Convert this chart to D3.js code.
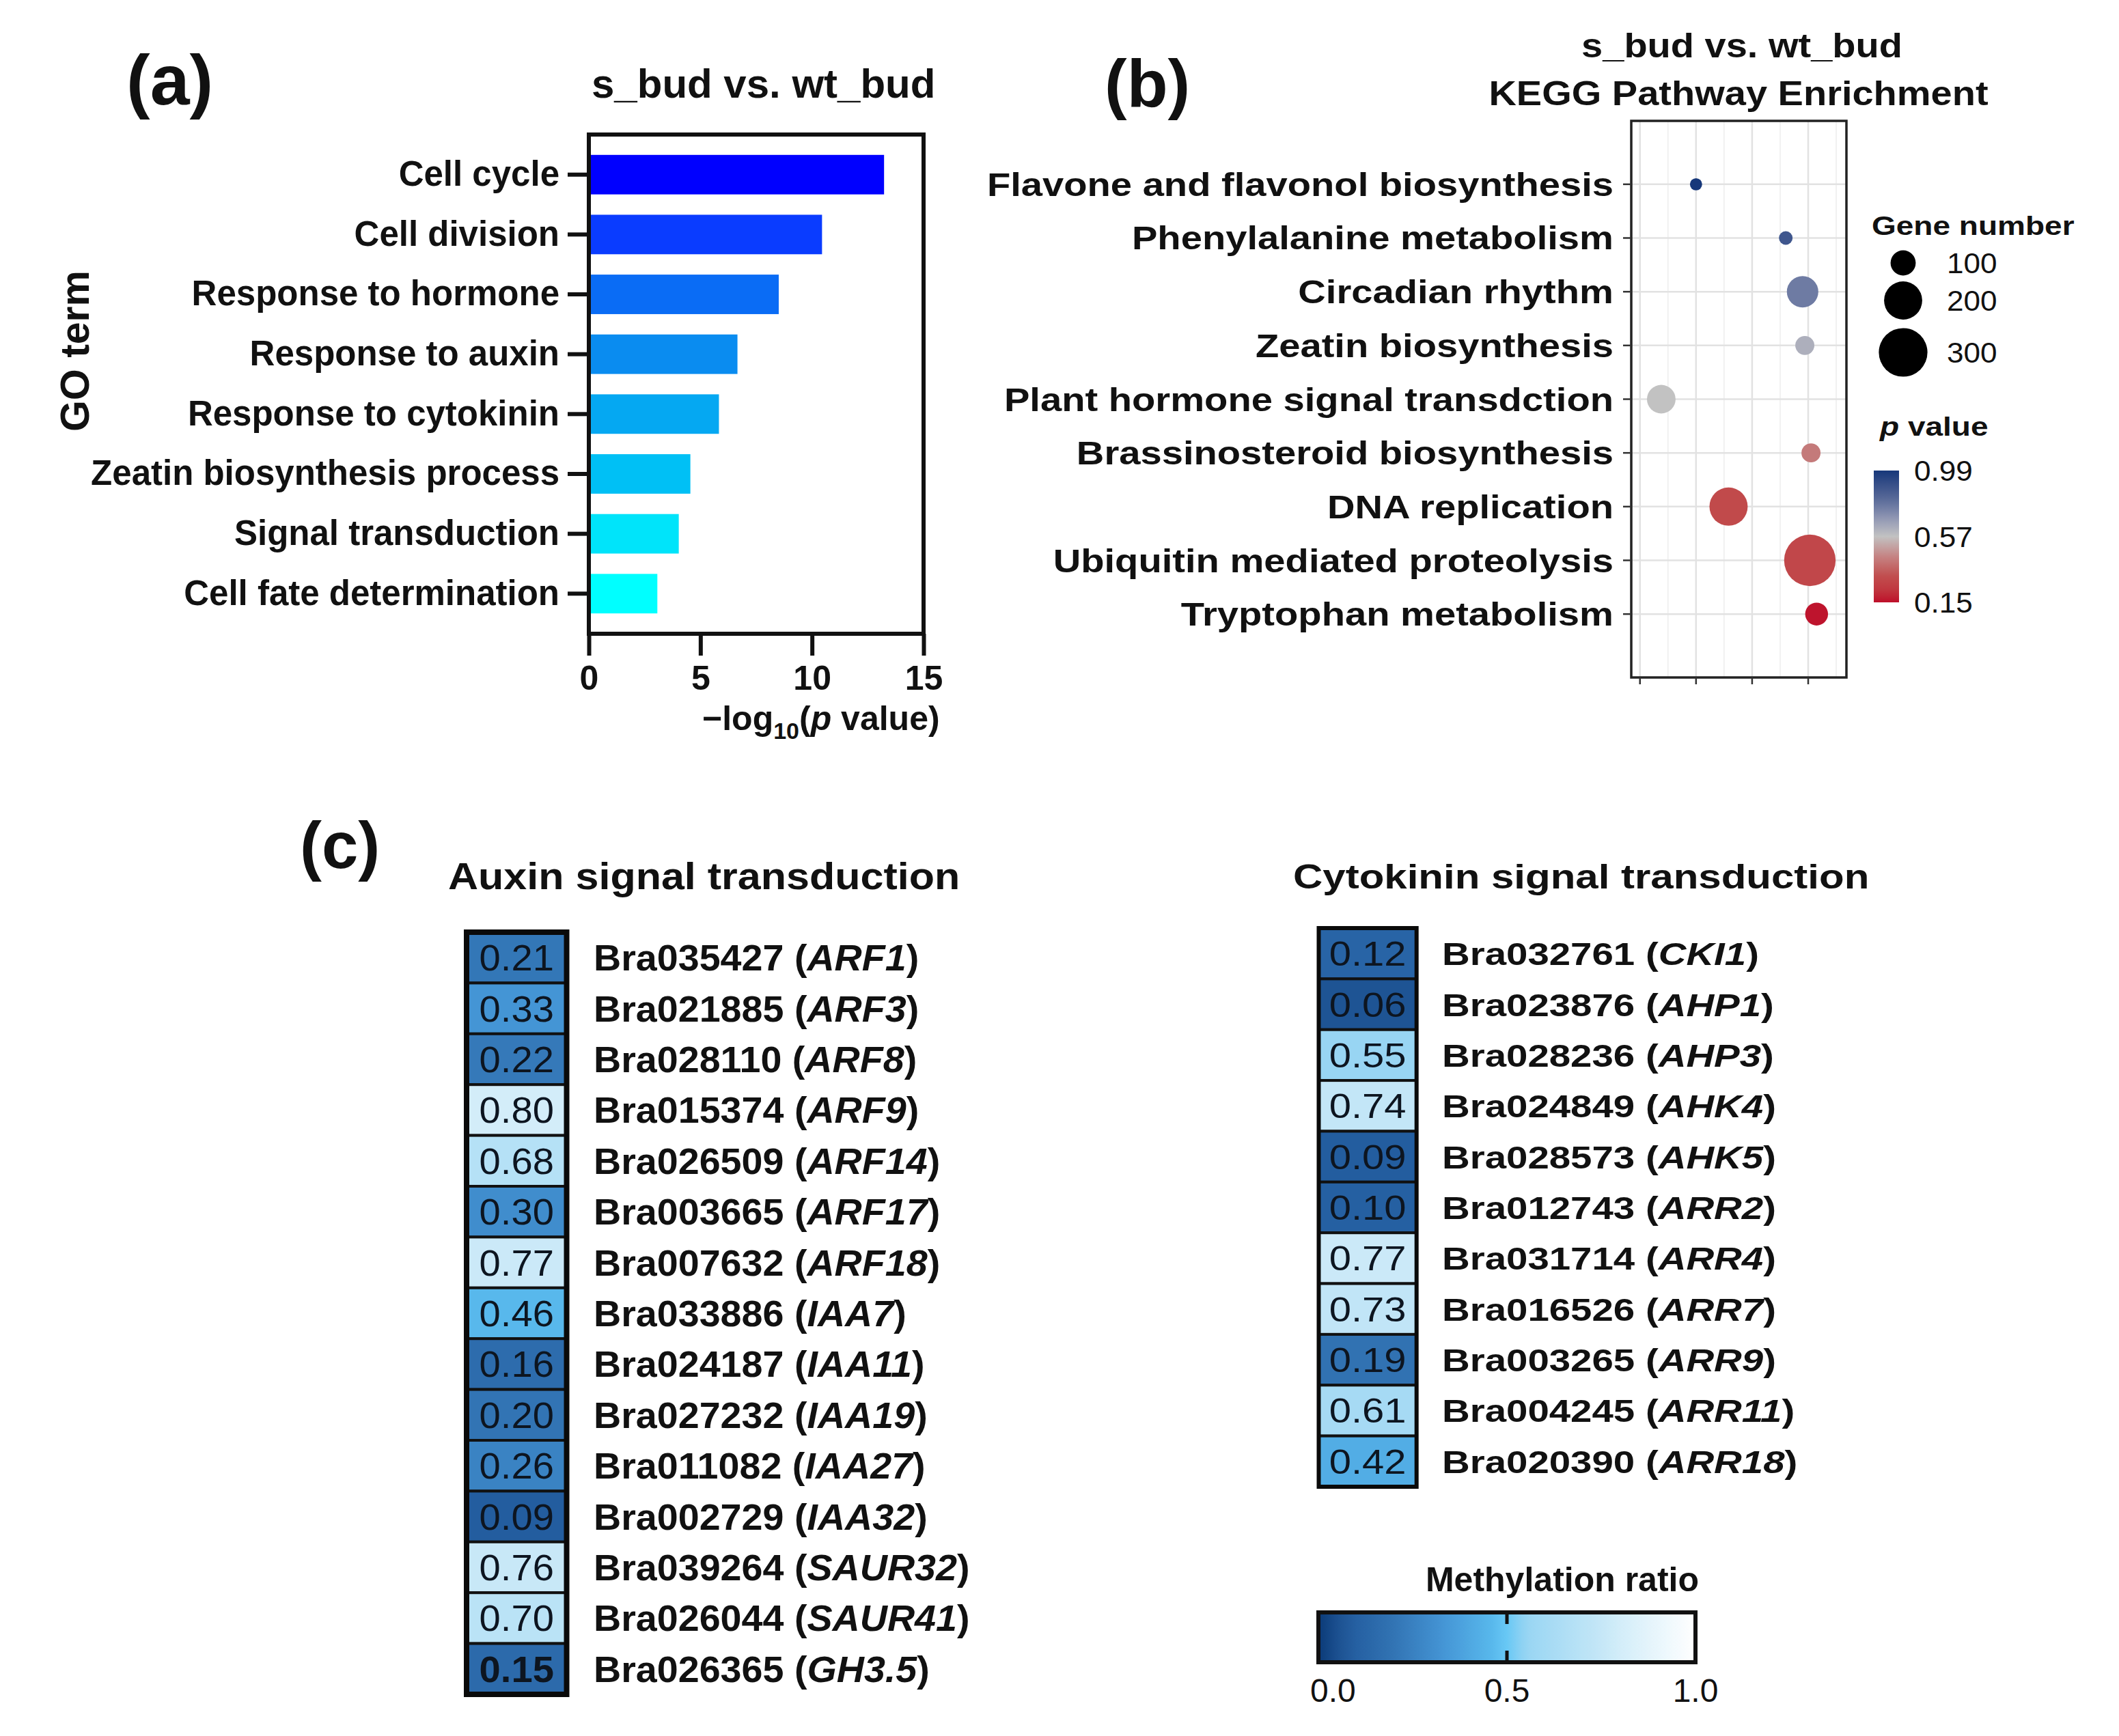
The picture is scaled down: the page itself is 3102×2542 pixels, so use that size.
<!DOCTYPE html>
<html><head><meta charset="utf-8">
<script src="https://cdn.jsdelivr.net/npm/d3@7"></script>
<style>
body{margin:0;background:#fff;}
svg{display:block;background:#fff;}
text{font-family:"Liberation Sans", Arial, Helvetica, sans-serif;fill:#111;}
</style>
</head><body>
<svg id="chart" width="3102" height="2542"></svg>
<script>
// ---------- DATA ----------
// (a) GO enrichment
const goTerms = ["Cell cycle","Cell division","Response to hormone","Response to auxin","Response to cytokinin","Zeatin biosynthesis process","Signal transduction","Cell fate determination"];
const goValues = [13.23,10.45,8.51,6.66,5.83,4.55,4.03,3.07];
const goTicks = [0,5,10,15];

// (b) KEGG enrichment
const keggPathways = ["Flavone and flavonol biosynthesis","Phenylalanine metabolism","Circadian rhythm","Zeatin biosynthesis","Plant hormone signal transdction","Brassinosteroid biosynthesis","DNA replication","Ubiquitin mediated proteolysis","Tryptophan metabolism"];
const keggRichFactor = [0.200,0.360,0.390,0.394,0.138,0.405,0.258,0.403,0.415];
const keggGeneNumber = [30,36,145,63,124,63,201,330,85];
const keggPValue = [0.99,0.88,0.76,0.62,0.57,0.42,0.30,0.29,0.16];
const keggMajorTicks = [0.1,0.2,0.3,0.4];
const keggMinorTicks = [0.15,0.25,0.35,0.45];
const geneLegendValues = [100,200,300];
const pLegendTicks = [0.99,0.57,0.15];

// (c) methylation heatmaps
const auxinIds = ["Bra035427","Bra021885","Bra028110","Bra015374","Bra026509","Bra003665","Bra007632","Bra033886","Bra024187","Bra027232","Bra011082","Bra002729","Bra039264","Bra026044","Bra026365"];
const auxinNames = ["ARF1","ARF3","ARF8","ARF9","ARF14","ARF17","ARF18","IAA7","IAA11","IAA19","IAA27","IAA32","SAUR32","SAUR41","GH3.5"];
const auxinValues = [0.21,0.33,0.22,0.80,0.68,0.30,0.77,0.46,0.16,0.20,0.26,0.09,0.76,0.70,0.15];
const cytoIds = ["Bra032761","Bra023876","Bra028236","Bra024849","Bra028573","Bra012743","Bra031714","Bra016526","Bra003265","Bra004245","Bra020390"];
const cytoNames = ["CKI1","AHP1","AHP3","AHK4","AHK5","ARR2","ARR4","ARR7","ARR9","ARR11","ARR18"];
const cytoValues = [0.12,0.06,0.55,0.74,0.09,0.10,0.77,0.73,0.19,0.61,0.42];
const methylTicks = [0.0,0.5,1.0];

// ---------- STYLE ----------
const goPalette = ["#0000FF","#0A3CFF","#0A6CF5","#0A8CF0","#05A8F2","#00C0F5","#00E4FA","#00FFFF"];
const methylColor = d3.scaleLinear()
  .domain([0,0.06,0.1,0.2,0.33,0.46,0.5,0.55,0.75,0.8,1])
  .range(["#0B3A78","#1E5494","#2560A2","#3274B4","#4495D5","#58B8EC","#68C8F5","#98D5F3","#C5E7F7","#D3EDF9","#FFFFFF"]);
const pColor = d3.scaleLinear()
  .domain([0.15,0.22,0.32,0.45,0.57,0.68,0.8,0.99])
  .range(["#BE0F2A","#C0343D","#C14F4F","#C58787","#C2C2C2","#9399B5","#5C6C9A","#17387A"]);

const svg = d3.select("#chart");
function T(parent, x, y, sx, str, size, weight, anchor){
  const t = parent.append("text")
    .attr("transform", `translate(${x},${y}) scale(${sx},1)`)
    .style("font-size", size+"px")
    .style("font-weight", weight||"bold")
    .attr("text-anchor", anchor||"start");
  if(str!==null) t.text(str);
  return t;
}

// ---------- PANEL (a) ----------
const gA = svg.append("g");
const A = {left:862,right:1352,top:197,bottom:928};
const xA = d3.scaleLinear().domain([0,15]).range([A.left,A.right]);
const yA = d3.scaleBand().domain(goTerms).range([A.top,A.bottom]).padding(0.34);

gA.selectAll("rect.bar").data(goTerms).join("rect")
  .attr("x", xA(0)).attr("y", d=>yA(d))
  .attr("width",(d,i)=>xA(goValues[i])-xA(0))
  .attr("height", yA.bandwidth())
  .attr("fill",(d,i)=>goPalette[i]);

const axL = gA.append("g").attr("transform",`translate(${A.left},0)`)
  .call(d3.axisLeft(yA).tickSize(31).tickPadding(12));
axL.select(".domain").remove();
axL.selectAll("line").attr("stroke","#111").attr("stroke-width",6);
axL.selectAll("text").style("font-size","51px").style("font-weight","bold").attr("fill","#111");

const axB = gA.append("g").attr("transform",`translate(0,${A.bottom})`)
  .call(d3.axisBottom(xA).tickValues(goTicks).tickSize(32).tickPadding(14).tickFormat(d3.format("d")));
axB.select(".domain").remove();
axB.selectAll("line").attr("stroke","#111").attr("stroke-width",6);
axB.selectAll("text").style("font-size","50px").style("font-weight","bold").attr("fill","#111");

gA.append("rect").attr("x",A.left).attr("y",A.top).attr("width",A.right-A.left).attr("height",A.bottom-A.top)
  .attr("fill","none").attr("stroke","#111").attr("stroke-width",6);

T(gA, 185, 153, 1, "(a)", 104);
T(gA, 866, 143, 1, "s_bud vs. wt_bud", 60);
gA.append("text").attr("transform","translate(130,514) rotate(-90)")
  .attr("text-anchor","middle").style("font-size","59px").style("font-weight","bold").text("GO term");
const xl = T(gA, 1028, 1069, 1, null, 50);
xl.append("tspan").text("\u2212log");
xl.append("tspan").attr("dy",13).style("font-size","34px").text("10");
xl.append("tspan").attr("dy",-13).text("(");
xl.append("tspan").style("font-style","italic").text("p");
xl.append("tspan").text(" value)");

// ---------- PANEL (b) ----------
const gB = svg.append("g");
const B = {left:2388,right:2703,top:177,bottom:992};
const xB = d3.scaleLinear().domain([0.0845,0.4682]).range([B.left,B.right]);
const yB = d3.scalePoint().domain(keggPathways).range([B.top,B.bottom]).padding(1.18);
const rB = d3.scalePow().exponent(0.6).domain([0,300]).range([0,35.6]);
const SXB = 1.17;

gB.append("rect").attr("x",B.left).attr("y",B.top).attr("width",B.right-B.left).attr("height",B.bottom-B.top).attr("fill","#fff");
gB.selectAll("line.minor").data(keggMinorTicks.filter(t=>xB(t)<B.right)).join("line")
  .attr("x1",d=>xB(d)).attr("x2",d=>xB(d)).attr("y1",B.top).attr("y2",B.bottom)
  .attr("stroke","#EDEDED").attr("stroke-width",1.5);
gB.selectAll("line.vmajor").data(keggMajorTicks).join("line")
  .attr("x1",d=>xB(d)).attr("x2",d=>xB(d)).attr("y1",B.top).attr("y2",B.bottom)
  .attr("stroke","#E2E2E2").attr("stroke-width",2.5);
gB.selectAll("line.hmajor").data(keggPathways).join("line")
  .attr("x1",B.left).attr("x2",B.right).attr("y1",d=>yB(d)).attr("y2",d=>yB(d))
  .attr("stroke","#E2E2E2").attr("stroke-width",2.5);

gB.selectAll("circle.dot").data(keggPathways).join("circle")
  .attr("cx",(d,i)=>xB(keggRichFactor[i])).attr("cy",d=>yB(d))
  .attr("r",(d,i)=>rB(keggGeneNumber[i]))
  .attr("fill",(d,i)=>pColor(keggPValue[i]));

gB.append("rect").attr("x",B.left).attr("y",B.top).attr("width",B.right-B.left).attr("height",B.bottom-B.top)
  .attr("fill","none").attr("stroke","#222").attr("stroke-width",3.5);
// ticks
gB.selectAll("line.yt").data(keggPathways).join("line")
  .attr("x1",B.left-12).attr("x2",B.left).attr("y1",d=>yB(d)).attr("y2",d=>yB(d))
  .attr("stroke","#333").attr("stroke-width",2.5);
gB.selectAll("line.xt").data(keggMajorTicks).join("line")
  .attr("x1",d=>xB(d)).attr("x2",d=>xB(d)).attr("y1",B.bottom).attr("y2",B.bottom+10)
  .attr("stroke","#333").attr("stroke-width",2.5);
keggPathways.forEach(d=>{
  T(gB, 2362, yB(d)+17, SXB, d, 48, "bold", "end");
});
T(gB, 1617, 156, 1, "(b)", 98);
T(gB, 2550, 84, 1.12, "s_bud vs. wt_bud", 50, "bold", "middle");
T(gB, 2545, 154, 1.12, "KEGG Pathway Enrichment", 50, "bold", "middle");

// size legend
T(gB, 2740, 344, 1.18, "Gene number", 39);
const legY = d3.scaleOrdinal().domain(geneLegendValues).range([385,440,516]);
geneLegendValues.forEach(v=>{
  gB.append("circle").attr("cx",2786).attr("cy",legY(v)).attr("r",rB(v)).attr("fill","#000");
  T(gB, 2850, legY(v)+15, 1.05, String(v), 42, "normal");
});
// p value legend
const pt = T(gB, 2752, 638, 1.18, null, 39);
pt.append("tspan").style("font-style","italic").text("p");
pt.append("tspan").text(" value");
const pBar = {x:2743,w:37,top:689,bottom:882};
const pY = d3.scaleLinear().domain([0.15,0.99]).range([pBar.bottom,pBar.top]);
const defs = svg.append("defs");
const pg = defs.append("linearGradient").attr("id","pgrad").attr("x1",0).attr("y1",1).attr("x2",0).attr("y2",0);
d3.range(0,1.0001,0.05).forEach(f=>{
  const v = 0.15 + f*(0.99-0.15);
  pg.append("stop").attr("offset",f).attr("stop-color",pColor(v));
});
gB.append("rect").attr("x",pBar.x).attr("y",pBar.top).attr("width",pBar.w).attr("height",pBar.bottom-pBar.top).attr("fill","url(#pgrad)");
pLegendTicks.forEach(v=>{
  T(gB, 2802, pY(v)+15, 1.05, v.toFixed(2), 42, "normal");
});

// ---------- PANEL (c) ----------
const gC = svg.append("g");
T(gC, 439, 1271, 1, "(c)", 96);

function heatmap(g, ids, names, values, box, opt){
  const y = d3.scaleBand().domain(d3.range(values.length)).range([box.top, box.bottom]);
  g.selectAll(null).data(values).join("rect")
    .attr("x",box.left).attr("y",(d,i)=>y(i))
    .attr("width",box.right-box.left).attr("height",y.bandwidth())
    .attr("fill",d=>methylColor(d)).attr("stroke","#111").attr("stroke-width",opt.inner);
  g.append("rect").attr("x",box.left).attr("y",box.top).attr("width",box.right-box.left).attr("height",box.bottom-box.top)
    .attr("fill","none").attr("stroke","#0a0a0a").attr("stroke-width",opt.outer);
  const cx = (box.left+box.right)/2;
  values.forEach((v,i)=>{
    const t = T(g, cx, y(i)+y.bandwidth()/2+opt.vdy, opt.vsx, v.toFixed(2), opt.vsize, (opt.boldLast && i===values.length-1)?"bold":"normal", "middle");
    t.style("fill","#0d1520");
    const l = T(g, opt.labelX, y(i)+y.bandwidth()/2+opt.ldy, opt.lsx, null, opt.lsize, "bold");
    l.append("tspan").text(ids[i]+" (");
    l.append("tspan").style("font-style","italic").text(names[i]);
    l.append("tspan").text(")");
  });
}
T(gC, 656, 1302, 1.09, "Auxin signal transduction", 56);
heatmap(gC.append("g"), auxinIds, auxinNames, auxinValues,
  {left:683,right:829.5,top:1365,bottom:2481},
  {inner:4,outer:8,vsx:1.06,vsize:53,vdy:19,labelX:869,lsx:1.05,lsize:53,ldy:19,boldLast:true});

T(gC, 1893, 1301, 1.2, "Cytokinin signal transduction", 50);
heatmap(gC.append("g"), cytoIds, cytoNames, cytoValues,
  {left:1930.5,right:2073.7,top:1359,bottom:2177},
  {inner:4,outer:6,vsx:1.16,vsize:50,vdy:18,labelX:2111,lsx:1.2,lsize:47,ldy:17,boldLast:false});

// methylation colour bar
const mBar = {left:1930,right:2482,top:2361,bottom:2434};
const xM = d3.scaleLinear().domain([0,1]).range([mBar.left,mBar.right]);
const mg = defs.append("linearGradient").attr("id","mgrad").attr("x1",0).attr("y1",0).attr("x2",1).attr("y2",0);
d3.range(0,1.0001,0.02).forEach(f=>{
  mg.append("stop").attr("offset",f).attr("stop-color",methylColor(f));
});
gC.append("rect").attr("x",mBar.left).attr("y",mBar.top).attr("width",mBar.right-mBar.left).attr("height",mBar.bottom-mBar.top)
  .attr("fill","url(#mgrad)").attr("stroke","#111").attr("stroke-width",6);
gC.append("line").attr("x1",xM(0.5)).attr("x2",xM(0.5)).attr("y1",mBar.top).attr("y2",mBar.top+17).attr("stroke","#111").attr("stroke-width",5);
gC.append("line").attr("x1",xM(0.5)).attr("x2",xM(0.5)).attr("y1",mBar.bottom-17).attr("y2",mBar.bottom).attr("stroke","#111").attr("stroke-width",5);
T(gC, 2487, 2330, 1, "Methylation ratio", 50, "bold", "end");
methylTicks.forEach(v=>{
  const anchor = v===0 ? "start" : "middle";
  const x = v===0 ? xM(0)-12 : xM(v);
  T(gC, x, 2492, 1, v.toFixed(1), 48, "normal", anchor);
});
</script>
</body></html>
